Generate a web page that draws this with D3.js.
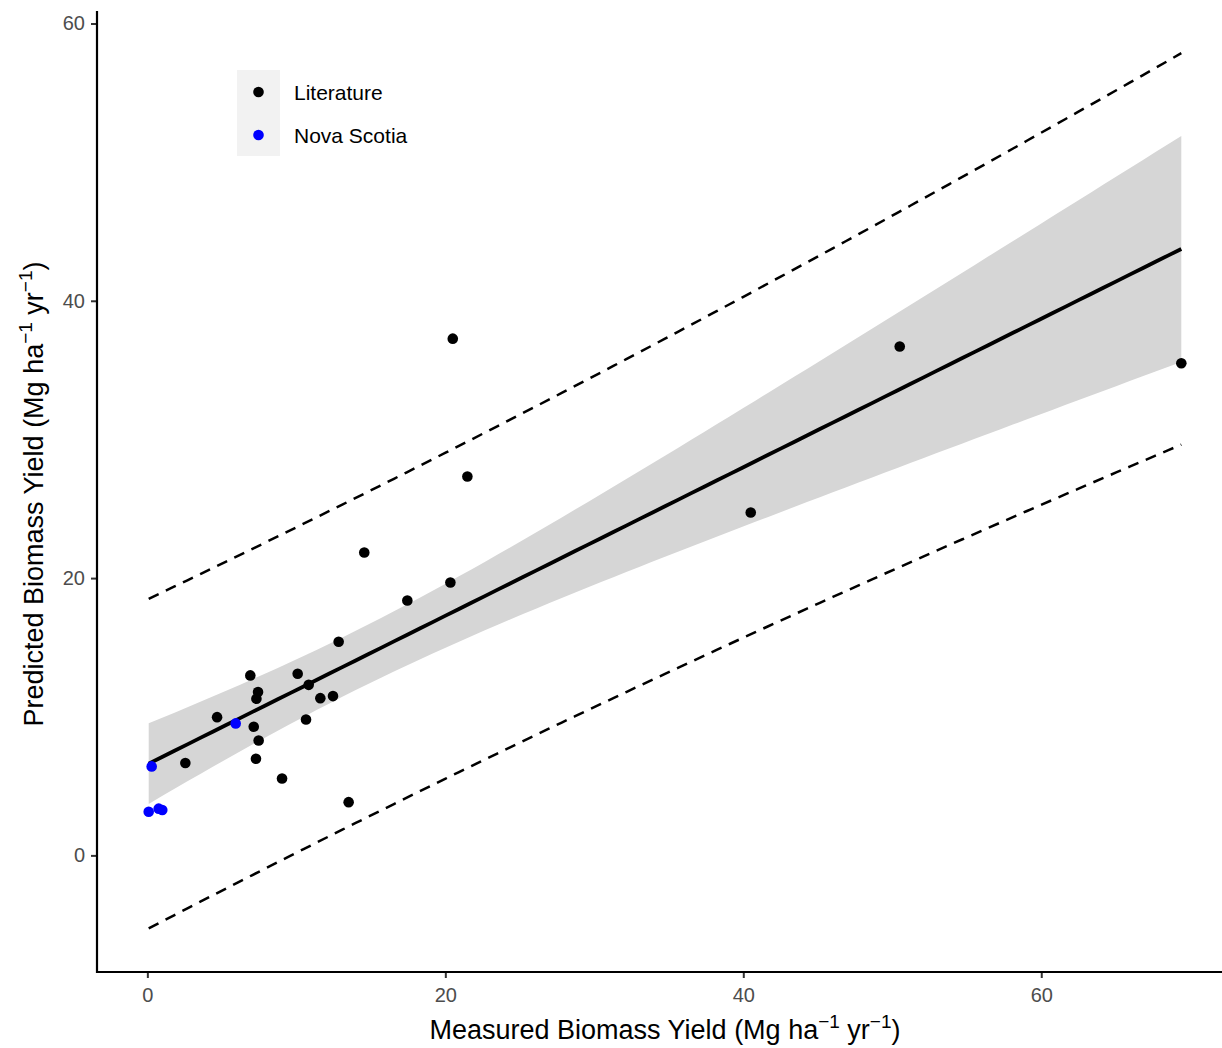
<!DOCTYPE html>
<html>
<head>
<meta charset="utf-8">
<script src="https://cdn.jsdelivr.net/npm/d3@7"></script>
<style>
  body { margin: 0; background: #fff; }
  svg { display: block; font-family: "Liberation Sans", Arial, sans-serif; }
</style>
</head>
<body>
<div id="chart"></div>
<script>
// measured vs predicted biomass yield (Mg ha-1 yr-1)
const litMeasured = [12.84, 6.91, 10.09, 10.83, 7.43, 7.32, 11.61, 12.46, 4.68, 7.14, 10.65, 7.47,
  2.55, 7.29, 9.04, 13.51, 20.5, 21.48, 14.56, 17.45, 20.34, 50.5, 40.5, 69.4];
const litPredicted = [15.41, 12.98, 13.1, 12.3, 11.78, 11.3, 11.34, 11.49, 9.97, 9.28, 9.8, 8.29,
  6.66, 6.97, 5.55, 3.84, 37.27, 27.33, 21.85, 18.38, 19.68, 36.7, 24.73, 35.5];
const nsMeasured = [5.93, 0.29, 0.09, 0.76, 1.0];
const nsPredicted = [9.52, 6.42, 3.15, 3.37, 3.27];

const groups = ['Literature', 'Nova Scotia'];
const groupColors = ['#000000', '#0000ff'];
const xTicks = [0, 20, 40, 60];
const yTicks = [0, 20, 40, 60];

const W = 1222, H = 1048;
const COLOR_RIBBON = '#d6d6d6';
const T_975_DF27 = 2.0518; // t quantile, df = n - 2

const points = [];
litMeasured.forEach((m, i) => points.push({ x: m, y: litPredicted[i], g: 0 }));
nsMeasured.forEach((m, i) => points.push({ x: m, y: nsPredicted[i], g: 1 }));

// linear model fitted over all points (like geom_smooth(method = 'lm'))
const n = points.length;
const mx = d3.mean(points, d => d.x);
const my = d3.mean(points, d => d.y);
const sxx = d3.sum(points, d => (d.x - mx) ** 2);
const sxy = d3.sum(points, d => (d.x - mx) * (d.y - my));
const slope = sxy / sxx;
const icpt = my - slope * mx;
const sse = d3.sum(points, d => (d.y - (icpt + slope * d.x)) ** 2);
const s = Math.sqrt(sse / (n - 2));

const [xMin, xMax] = d3.extent(points, d => d.x);
const fitted = d3.range(0, 81).map(k => {
  const xv = xMin + (xMax - xMin) * k / 80;
  const yv = icpt + slope * xv;
  const lev = 1 / n + (xv - mx) ** 2 / sxx;
  const ci = T_975_DF27 * s * Math.sqrt(lev);
  const pi = T_975_DF27 * s * Math.sqrt(1 + lev);
  return { x: xv, y: yv, lo: yv - ci, hi: yv + ci, plo: yv - pi, phi: yv + pi };
});

const x = d3.scaleLinear().domain([-3.38, 72.87]).range([97, 1233]);
const y = d3.scaleLinear().domain([-8.41, 60.9]).range([972, 11]);

const svg = d3.select('#chart').append('svg')
  .attr('width', W).attr('height', H);

// ribbon
svg.append('path')
  .datum(fitted)
  .attr('fill', COLOR_RIBBON)
  .attr('d', d3.area().x(d => x(d.x)).y0(d => y(d.lo)).y1(d => y(d.hi)));

// fit line
svg.append('path')
  .datum(fitted)
  .attr('fill', 'none')
  .attr('stroke', '#000')
  .attr('stroke-width', 3.8)
  .attr('d', d3.line().x(d => x(d.x)).y(d => y(d.y)));

// prediction interval
['plo', 'phi'].forEach(k => {
  svg.append('path')
    .datum(fitted)
    .attr('fill', 'none')
    .attr('stroke', '#000')
    .attr('stroke-width', 2.5)
    .attr('stroke-dasharray', '11,8')
    .attr('d', d3.line().x(d => x(d.x)).y(d => y(d[k])));
});

svg.selectAll('.dot')
  .data(points)
  .enter()
  .append('circle')
  .attr('class', 'dot')
  .attr('cx', d => x(d.x))
  .attr('cy', d => y(d.y))
  .attr('r', 5.3)
  .attr('fill', d => groupColors[d.g]);

// axes
const xAxis = svg.append('g')
  .attr('transform', 'translate(0,' + 972 + ')')
  .call(d3.axisBottom(x).tickValues(xTicks).tickSize(6).tickPadding(10));
const yAxis = svg.append('g')
  .attr('transform', 'translate(' + 97 + ',0)')
  .call(d3.axisLeft(y).tickValues(yTicks).tickSize(6).tickPadding(6));

[xAxis, yAxis].forEach(a => {
  a.select('.domain').remove();
  a.selectAll('.tick line').attr('stroke', '#333').attr('stroke-width', 2);
  a.selectAll('.tick text').attr('fill', '#4d4d4d').style('font-size', '20px');
});
svg.append('line').attr('x1', 97).attr('x2', W).attr('y1', 972).attr('y2', 972)
  .attr('stroke', '#000').attr('stroke-width', 2.2);
svg.append('line').attr('x1', 97).attr('x2', 97).attr('y1', 11).attr('y2', 973)
  .attr('stroke', '#000').attr('stroke-width', 2.2);

// axis titles with superscripts
const addTitle = (g, base) => {
  const t = g.append('text').attr('text-anchor', 'middle').style('font-size', '27px').attr('fill', '#000');
  t.append('tspan').text(base + ' (Mg ha');
  t.append('tspan').attr('dy', -11).style('font-size', '19px').text('\u22121');
  t.append('tspan').attr('dy', 11).text(' yr');
  t.append('tspan').attr('dy', -11).style('font-size', '19px').text('\u22121');
  t.append('tspan').attr('dy', 11).text(')');
  return t;
};
addTitle(svg.append('g').attr('transform', 'translate(665,1039)'), 'Measured Biomass Yield');
addTitle(svg.append('g').attr('transform', 'translate(43,494) rotate(-90)'), 'Predicted Biomass Yield');

// legend
const leg = svg.append('g').attr('transform', 'translate(237,70)');
leg.append('rect').attr('width', 43).attr('height', 86).attr('fill', '#f2f2f2');
groups.forEach((name, i) => {
  leg.append('circle').attr('cx', 21.5).attr('cy', 22 + i * 43).attr('r', 5.3).attr('fill', groupColors[i]);
  leg.append('text').attr('x', 57).attr('y', 23 + i * 43).attr('dy', '0.35em')
    .style('font-size', '21px').attr('fill', '#000').text(name);
});
</script>
</body>
</html>
